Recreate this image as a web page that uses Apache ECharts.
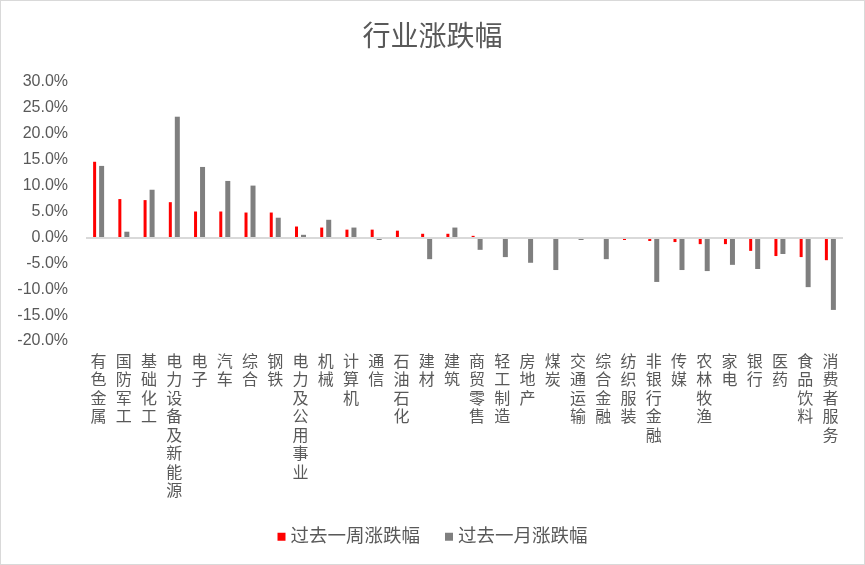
<!DOCTYPE html>
<html>
<head>
<meta charset="utf-8">
<script src="https://cdn.jsdelivr.net/npm/echarts@6/dist/echarts.min.js"></script>
<style>
  html, body { margin: 0; padding: 0; background: #fff; }
  #chart { width: 863px; height: 563px; border: 1px solid #d9d9d9; }
</style>
</head>
<body>
<div id="chart"></div>
<script>
// 行业
const categories = ['有色金属', '国防军工', '基础化工', '电力设备及新能源', '电子', '汽车', '综合', '钢铁',
  '电力及公用事业', '机械', '计算机', '通信', '石油石化', '建材', '建筑', '商贸零售', '轻工制造', '房地产',
  '煤炭', '交通运输', '综合金融', '纺织服装', '非银行金融', '传媒', '农林牧渔', '家电', '银行', '医药',
  '食品饮料', '消费者服务']

// 过去一周涨跌幅 (%)
const weekValues = [14.6, 7.4, 7.2, 6.8, 5.0, 5.0, 4.8, 4.8, 2.1, 1.9, 1.5, 1.5, 1.3, 0.7, 0.7, 0.3, 0.05, 0.05,
  0.0, 0.0, -0.3, -0.5, -0.7, -0.9, -1.3, -1.3, -2.6, -3.6, -3.8, -4.4]

// 过去一月涨跌幅 (%)
const monthValues = [13.8, 1.1, 9.2, 23.3, 13.6, 10.9, 10.0, 3.8, 0.5, 3.4, 1.9, -0.5, -0.3, -4.2, 1.9, -2.4,
  -3.8, -4.9, -6.3, -0.5, -4.2, 0.0, -8.6, -6.3, -6.5, -5.3, -6.1, -3.2, -9.6, -14.0]

const yTicks = { min: -20, max: 30, interval: 5 }

const fontStack = "'Liberation Sans', 'Noto Sans CJK SC', sans-serif"
const textColor = '#595959'

const chart = echarts.init(document.getElementById('chart'))

chart.setOption({
  animation: false,
  title: {
    text: '行业涨跌幅',
    left: 'center',
    top: 18,
    textStyle: { fontSize: 28, fontWeight: 'normal', color: textColor, fontFamily: fontStack }
  },
  legend: {
    bottom: 13,
    left: 'center',
    itemWidth: 8,
    itemHeight: 8,
    itemGap: 25,
    icon: 'rect',
    textStyle: { fontSize: 18.5, color: textColor, fontFamily: fontStack },
    data: ['过去一周涨跌幅', '过去一月涨跌幅']
  },
  grid: {
    left: 85,
    right: 21,
    top: 81,
    bottom: 223,
    containLabel: false
  },
  xAxis: {
    type: 'category',
    data: categories,
    axisLine: { show: false, onZero: false },
    axisTick: { show: false },
    axisLabel: {
      interval: 0,
      margin: 12,
      verticalAlign: 'top',
      color: textColor,
      fontSize: 16,
      lineHeight: 18.5,
      fontFamily: fontStack,
      formatter: v => v.split('').join('\n')
    }
  },
  yAxis: {
    type: 'value',
    min: yTicks.min,
    max: yTicks.max,
    interval: yTicks.interval,
    axisLine: { show: false },
    axisTick: { show: false },
    splitLine: { show: false },
    axisLabel: {
      margin: 18,
      color: textColor,
      fontSize: 16,
      fontFamily: fontStack,
      formatter: v => v.toFixed(1) + '%'
    }
  },
  series: [
    {
      name: '过去一周涨跌幅',
      type: 'bar',
      data: weekValues,
      barWidth: 3,
      barGap: '100%',
      itemStyle: { color: '#ff0000' },
      markLine: {
        silent: true,
        symbol: 'none',
        label: { show: false },
        lineStyle: { color: '#d9d9d9', width: 2, type: 'solid' },
        data: [{ yAxis: 0 }]
      }
    },
    {
      name: '过去一月涨跌幅',
      type: 'bar',
      data: monthValues,
      barWidth: 5,
      itemStyle: { color: '#7f7f7f' }
    }
  ]
})
</script>
</body>
</html>
